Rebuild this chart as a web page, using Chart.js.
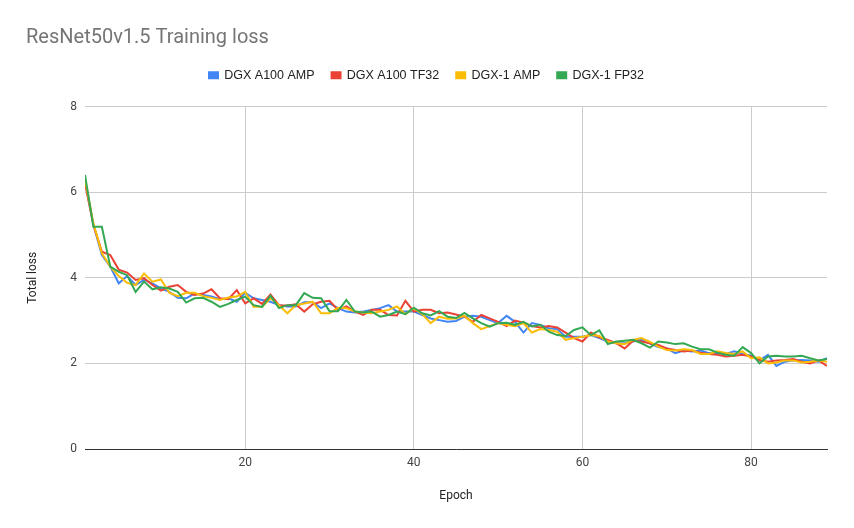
<!DOCTYPE html>
<html>
<head>
<meta charset="utf-8">
<title>ResNet50v1.5 Training loss</title>
<script src="https://cdn.jsdelivr.net/npm/chart.js@4/dist/chart.umd.min.js"></script>
<style>
  html, body { margin: 0; padding: 0; background: #ffffff; }
  #wrap { width: 854px; height: 528px; }
</style>
</head>
<body>
<div id="wrap"><canvas id="lossChart" width="854" height="528"></canvas></div>
<script>
// epochs 1..89
const epochs = Array.from({ length: 89 }, (_, i) => i + 1);
const xTicks = [20, 40, 60, 80];
const yTicks = [0, 2, 4, 6, 8];

const seriesNames = ['DGX A100 AMP', 'DGX A100 TF32', 'DGX-1 AMP', 'DGX-1 FP32'];

const a100Amp = [
    6.28, 5.23, 4.53, 4.26, 3.87, 4.04, 3.83, 3.95, 3.87, 3.75,
    3.67, 3.53, 3.52, 3.63, 3.60, 3.56, 3.50, 3.52, 3.44, 3.65,
    3.52, 3.48, 3.44, 3.36, 3.33, 3.33, 3.43, 3.43, 3.29, 3.40,
    3.29, 3.21, 3.19, 3.21, 3.25, 3.29, 3.36, 3.21, 3.21, 3.21,
    3.13, 3.05, 3.01, 2.97, 2.99, 3.09, 3.11, 3.09, 3.01, 2.94,
    3.11, 2.97, 2.72, 2.94, 2.90, 2.82, 2.80, 2.62, 2.62, 2.62,
    2.66, 2.59, 2.51, 2.47, 2.47, 2.51, 2.55, 2.46, 2.38, 2.35,
    2.24, 2.30, 2.28, 2.30, 2.24, 2.25, 2.22, 2.28, 2.22, 2.18,
    2.07, 2.20, 1.94, 2.04, 2.07, 2.08, 2.07, 2.04, 2.12
];
const a100Tf32 = [
    6.20, 5.23, 4.61, 4.53, 4.19, 4.12, 3.95, 3.99, 3.83, 3.70,
    3.79, 3.83, 3.67, 3.60, 3.63, 3.73, 3.52, 3.50, 3.71, 3.40,
    3.52, 3.39, 3.61, 3.36, 3.35, 3.38, 3.21, 3.38, 3.44, 3.46,
    3.25, 3.33, 3.21, 3.13, 3.25, 3.25, 3.13, 3.12, 3.46, 3.21,
    3.25, 3.25, 3.17, 3.19, 3.14, 3.09, 2.97, 3.13, 3.05, 2.97,
    2.87, 3.00, 2.95, 2.87, 2.84, 2.87, 2.84, 2.72, 2.59, 2.51,
    2.72, 2.61, 2.55, 2.47, 2.35, 2.53, 2.51, 2.47, 2.43, 2.35,
    2.31, 2.28, 2.30, 2.25, 2.22, 2.20, 2.16, 2.18, 2.20, 2.16,
    2.08, 2.04, 2.07, 2.08, 2.10, 2.04, 2.00, 2.07, 1.94
];
const dgx1Amp = [
    6.30, 5.27, 4.57, 4.26, 4.04, 3.88, 3.83, 4.10, 3.91, 3.96,
    3.65, 3.57, 3.65, 3.65, 3.57, 3.53, 3.48, 3.54, 3.56, 3.67,
    3.32, 3.32, 3.52, 3.36, 3.17, 3.36, 3.40, 3.44, 3.17, 3.17,
    3.30, 3.29, 3.21, 3.19, 3.17, 3.21, 3.25, 3.33, 3.15, 3.29,
    3.15, 2.94, 3.09, 3.04, 3.05, 3.11, 2.94, 2.80, 2.87, 2.94,
    2.90, 2.87, 2.94, 2.72, 2.80, 2.78, 2.74, 2.55, 2.59, 2.62,
    2.66, 2.64, 2.51, 2.47, 2.45, 2.55, 2.59, 2.50, 2.39, 2.31,
    2.30, 2.33, 2.31, 2.22, 2.22, 2.28, 2.24, 2.22, 2.28, 2.12,
    2.14, 2.00, 2.02, 2.07, 2.07, 2.02, 2.04, 2.07, 2.04
];
const dgx1Fp32 = [
    6.40, 5.19, 5.19, 4.26, 4.14, 4.06, 3.67, 3.91, 3.73, 3.78,
    3.75, 3.67, 3.42, 3.52, 3.53, 3.44, 3.32, 3.39, 3.48, 3.56,
    3.36, 3.32, 3.58, 3.29, 3.36, 3.36, 3.64, 3.53, 3.52, 3.22,
    3.22, 3.48, 3.21, 3.19, 3.21, 3.09, 3.13, 3.21, 3.15, 3.30,
    3.17, 3.12, 3.22, 3.09, 3.06, 3.18, 3.05, 2.94, 2.86, 2.94,
    2.95, 2.90, 2.97, 2.86, 2.90, 2.74, 2.66, 2.64, 2.78, 2.84,
    2.66, 2.77, 2.45, 2.51, 2.53, 2.55, 2.47, 2.37, 2.51, 2.49,
    2.45, 2.47, 2.39, 2.33, 2.33, 2.25, 2.20, 2.18, 2.38, 2.24,
    2.00, 2.16, 2.18, 2.16, 2.16, 2.18, 2.12, 2.07, 2.10
];

const seriesValues = [a100Amp, a100Tf32, dgx1Amp, dgx1Fp32];
const seriesColors = ['#4285f4', '#ea4335', '#fbbc04', '#34a853'];

const font = "Roboto, 'Noto Sans', sans-serif";
const legendFont = "'Liberation Sans', Arial, sans-serif";

// push the plot down below the legend, like the sheets chart
const legendGap = {
    id: 'legendGap',
    beforeInit(chart) {
        const fit = chart.legend.fit;
        chart.legend.fit = function () {
            fit.bind(chart.legend)();
            this.height += 15;
        };
    }
};

const datasets = seriesNames.map((name, i) => ({
    label: name,
    data: epochs.map((e, j) => ({ x: e, y: seriesValues[i][j] })),
    borderColor: seriesColors[i],
    backgroundColor: seriesColors[i],
    borderWidth: 2,
    pointRadius: 0,
    pointHoverRadius: 0,
    tension: 0,
    fill: false,
    order: seriesNames.length - i // later series on top
}));

new Chart(document.getElementById('lossChart'), {
    type: 'line',
    data: { datasets: datasets },
    options: {
        responsive: false,
        animation: false,
        layout: {
            padding: { left: 26, right: 27, top: 0, bottom: 18 }
        },
        scales: {
            x: {
                type: 'linear',
                min: 1,
                max: 89,
                afterBuildTicks: (scale) => {
                    scale.ticks = xTicks.map(v => ({ value: v }));
                },
                afterFit: (scale) => { scale.height = 61; },
                grid: { color: '#cccccc', drawTicks: false },
                border: { display: true, color: '#333333', width: 1 },
                ticks: {
                    color: '#444444',
                    padding: 7,
                    maxRotation: 0,
                    font: { family: font, size: 12 }
                },
                title: {
                    display: true,
                    text: 'Epoch',
                    color: '#222222',
                    padding: { top: 4, bottom: 7 },
                    font: { family: font, size: 12 }
                }
            },
            y: {
                min: 0,
                max: 8,
                afterBuildTicks: (scale) => {
                    scale.ticks = yTicks.map(v => ({ value: v }));
                },
                afterFit: (scale) => { scale.width = 59; },
                grid: { color: '#cccccc', drawTicks: false },
                border: { display: false },
                ticks: {
                    color: '#444444',
                    padding: 8,
                    font: { family: font, size: 12 }
                },
                title: {
                    display: true,
                    text: 'Total loss',
                    color: '#222222',
                    padding: 0,
                    font: { family: font, size: 12 }
                }
            }
        },
        plugins: {
            title: {
                display: true,
                text: 'ResNet50v1.5 Training loss',
                align: 'start',
                color: '#757575',
                padding: { top: 26, bottom: 2 },
                font: { family: font, size: 20, weight: 'normal' }
            },
            legend: {
                position: 'top',
                align: 'center',
                labels: {
                    boxWidth: 9,
                    boxHeight: 6,
                    padding: 17,
                    color: '#222222',
                    font: { family: legendFont, size: 12.5 },
                    sort: (a, b) => a.datasetIndex - b.datasetIndex
                }
            },
            tooltip: { enabled: false }
        }
    },
    plugins: [legendGap]
});
</script>
</body>
</html>
